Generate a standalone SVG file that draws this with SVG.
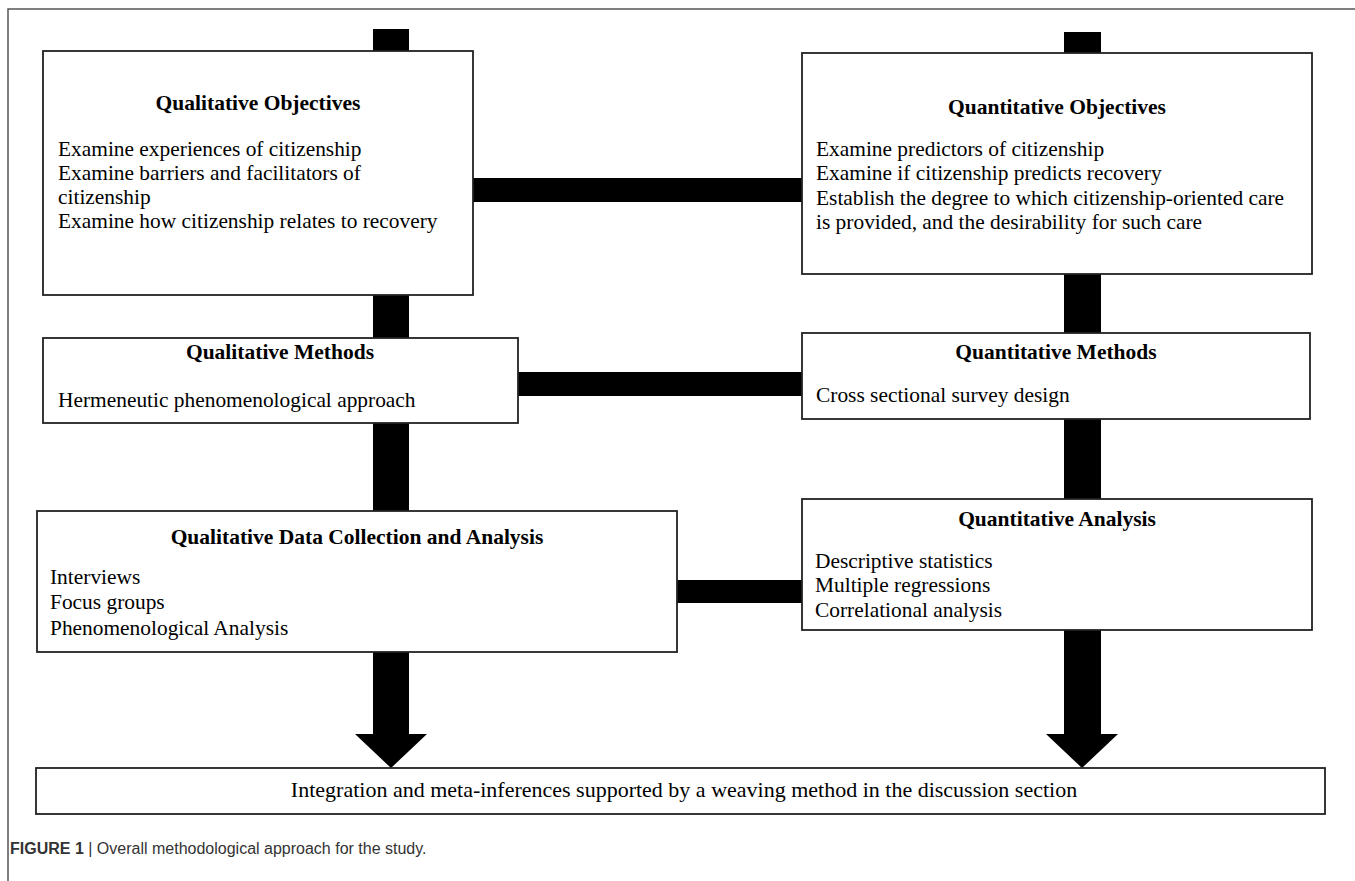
<svg xmlns="http://www.w3.org/2000/svg" width="1355" height="881" viewBox="0 0 1355 881">
<style>
.box{fill:#fff;stroke:#222;stroke-width:1.8}
.bar{fill:#000}
.t{font-family:"Liberation Serif","Times New Roman",serif;font-size:21.5px;font-weight:bold;fill:#000;text-anchor:middle}
.b{font-family:"Liberation Serif","Times New Roman",serif;font-size:21.4px;fill:#000}
.frame{stroke:#555;stroke-width:1.5;fill:none}
.cap{font-family:"Liberation Sans",Arial,sans-serif;font-size:16px;fill:#333}
</style>
<rect width="1355" height="881" fill="#fff"/>
<path class="frame" d="M8,881 V9 H1355"/>
<g id="connectors">
<rect class="bar" x="373" y="29" width="36" height="23"/>
<rect class="bar" x="373" y="295" width="36" height="43"/>
<rect class="bar" x="373" y="423" width="36" height="88"/>
<rect class="bar" x="373" y="652" width="36" height="82"/>
<polygon class="bar" points="355,734 427,734 391,768"/>
<rect class="bar" x="1064" y="32" width="37" height="21"/>
<rect class="bar" x="1064" y="274" width="37" height="59"/>
<rect class="bar" x="1064" y="419" width="37" height="80"/>
<rect class="bar" x="1064" y="630" width="37" height="104"/>
<polygon class="bar" points="1046,734 1118,734 1082,768"/>
<rect class="bar" x="473" y="178" width="329" height="24"/>
<rect class="bar" x="518" y="372" width="284" height="24"/>
<rect class="bar" x="677" y="580" width="125" height="23"/>
</g>
<g id="qual-objectives">
<rect class="box" x="43" y="51" width="430" height="244"/>
<text class="t" x="258" y="110">Qualitative Objectives</text>
<text class="b" x="58" y="156">Examine experiences of citizenship</text>
<text class="b" x="58" y="180">Examine barriers and facilitators of</text>
<text class="b" x="58" y="204">citizenship</text>
<text class="b" x="58" y="228">Examine how citizenship relates to recovery</text>
</g>
<g id="qual-methods">
<rect class="box" x="43" y="338" width="475" height="85"/>
<text class="t" x="280" y="359">Qualitative Methods</text>
<text class="b" x="58" y="407">Hermeneutic phenomenological approach</text>
</g>
<g id="qual-data">
<rect class="box" x="37" y="511" width="640" height="141"/>
<text class="t" x="357" y="544">Qualitative Data Collection and Analysis</text>
<text class="b" x="50" y="584">Interviews</text>
<text class="b" x="50" y="609">Focus groups</text>
<text class="b" x="50" y="635">Phenomenological Analysis</text>
</g>
<g id="quant-objectives">
<rect class="box" x="802" y="53" width="510" height="221"/>
<text class="t" x="1057" y="114">Quantitative Objectives</text>
<text class="b" x="816" y="156">Examine predictors of citizenship</text>
<text class="b" x="816" y="180">Examine if citizenship predicts recovery</text>
<text class="b" x="816" y="205">Establish the degree to which citizenship-oriented care</text>
<text class="b" x="816" y="229">is provided, and the desirability for such care</text>
</g>
<g id="quant-methods">
<rect class="box" x="802" y="333" width="508" height="86"/>
<text class="t" x="1056" y="359">Quantitative Methods</text>
<text class="b" x="816" y="402">Cross sectional survey design</text>
</g>
<g id="quant-analysis">
<rect class="box" x="802" y="499" width="510" height="131"/>
<text class="t" x="1057" y="526">Quantitative Analysis</text>
<text class="b" x="815" y="568">Descriptive statistics</text>
<text class="b" x="815" y="592">Multiple regressions</text>
<text class="b" x="815" y="617">Correlational analysis</text>
</g>
<g id="integration">
<rect class="box" x="36" y="768" width="1289" height="46"/>
<text class="b" x="684" y="797" text-anchor="middle" style="font-size:22px">Integration and meta-inferences supported by a weaving method in the discussion section</text>
</g>
<text class="cap" x="10" y="854"><tspan font-weight="bold">FIGURE 1</tspan> | Overall methodological approach for the study.</text>
</svg>
